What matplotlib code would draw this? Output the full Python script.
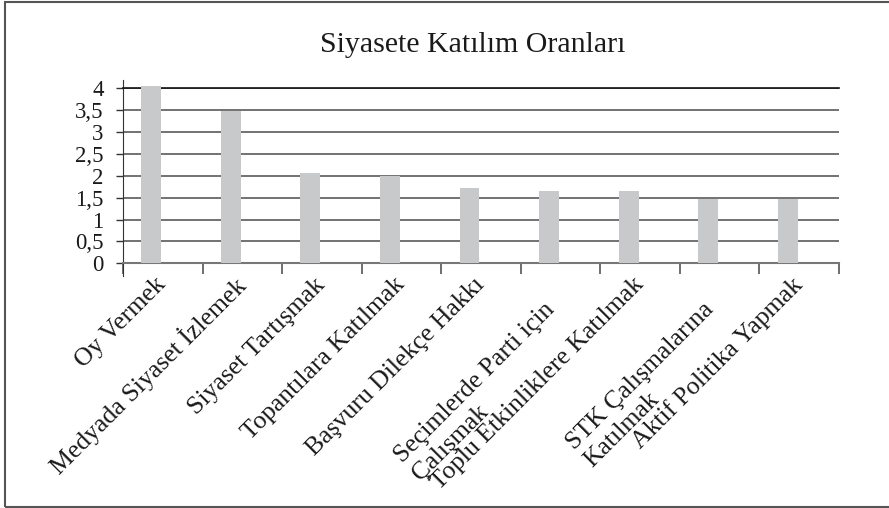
import numpy as np
import matplotlib.pyplot as plt
from matplotlib.patches import Rectangle
from matplotlib.ticker import FuncFormatter
from matplotlib.transforms import ScaledTranslation

plt.rcParams['font.family'] = ['Liberation Serif', 'DejaVu Serif']

categories = ["Oy Vermek", "Medyada Siyaset İzlemek", "Siyaset Tartışmak",
              "Topantılara Katılmak", "Başvuru Dilekçe Hakkı",
              "Seçimlerde Parti için\nÇalışmak", "Toplu Etkinliklere Katılmak",
              "STK Çalışmalarına\nKatılmak", "Aktif Politika Yapmak"]
values = [4.06, 3.47, 2.07, 2.00, 1.73, 1.66, 1.66, 1.47, 1.47]
yticks = np.arange(0, 4.01, 0.5)

fig = plt.figure(figsize=(8.89, 5.08), dpi=100)
ax = fig.add_axes([0.1384, 0.4817, 0.8054, 0.3445])

x = np.arange(len(categories))
ax.bar(x - 0.145, values, width=0.25, color='#c8c9cb', zorder=3, clip_on=False)

ax.set_xlim(-0.5, len(categories) - 0.5)
ax.set_ylim(0, 4)
ax.set_yticks(yticks)
ax.yaxis.set_major_formatter(FuncFormatter(lambda v, p: ('%g' % v).replace('.', ',')))
ax.yaxis.grid(True, color='#5a5a5a', lw=1.2, zorder=1)
ax.tick_params(axis='y', length=5, width=1, color='#333333', pad=9,
               labelsize=16.5, labelcolor='#1a1a1a')

# category boundaries get the tick marks, names sit in between
ax.set_xticks(np.arange(-0.5, len(categories), 1.0))
ax.set_xticklabels([])
ax.tick_params(axis='x', which='major', length=8, width=1.2, color='#555555')
ax.set_xticks(x, minor=True)
ax.set_xticklabels(categories, minor=True, rotation=45, ha='right',
                   rotation_mode='anchor', va='center', multialignment='left',
                   fontsize=18.5, color='#1a1a1a')
ax.tick_params(axis='x', which='minor', length=0, pad=13)

# two-line names hang lower and further back along their slope
for lab in ax.get_xticklabels(minor=True):
    if '\n' in lab.get_text():
        lab.set_va('top')
        lab.set_transform(lab.get_transform() +
                          ScaledTranslation(-0.17, -0.17, fig.dpi_scale_trans))

ax.spines['right'].set_visible(False)
ax.spines['top'].set_color('#111111')
ax.spines['top'].set_linewidth(1.2)
ax.spines['bottom'].set_color('#777777')
ax.spines['bottom'].set_linewidth(1.5)
ax.spines['left'].set_color('#333333')
ax.spines['left'].set_bounds(-0.28, 4.18)

fig.text(0.532, 0.912, "Siyasete Katılım Oranları", ha='center', va='center',
         fontsize=21.5, color='#1a1a1a')

fig.patches.append(Rectangle((0.0056, 0.002), 1.1, 0.994, transform=fig.transFigure,
                             fill=False, edgecolor='#555555', lw=1.5))

fig.savefig("out.png", dpi=100)
